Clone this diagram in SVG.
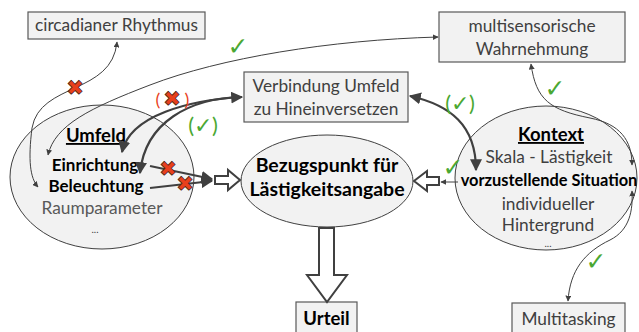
<svg xmlns="http://www.w3.org/2000/svg" width="639" height="332" viewBox="0 0 639 332">
<style>
.box{fill:#f2f2f2;stroke:#595959;stroke-width:1.2}
.ell{fill:#f2f2f2;stroke:#404040;stroke-width:1}
.t{font-family:Lato,"Open Sans",sans-serif;font-size:17.3px;fill:#404040;text-anchor:middle}
.dots{font-family:Lato,"Open Sans",sans-serif;font-size:10px;fill:#404040;text-anchor:middle}
.b{font-family:Lato,"Open Sans",sans-serif;font-weight:bold;fill:#000;text-anchor:middle}
.thin{fill:none;stroke:#404040;stroke-width:1}
.thick{fill:none;stroke:#404040;stroke-width:2.2}
.hollow{fill:#fff;stroke:#404040;stroke-width:2}
.ok{font-family:"DejaVu Sans",sans-serif;font-size:25px;fill:#4aa832;text-anchor:middle;font-weight:bold}
.no{font-family:"DejaVu Sans",sans-serif;font-size:21px;fill:#e8401c;stroke:#3a1a10;stroke-width:0.7;text-anchor:middle}
.par{font-family:Lato,sans-serif;font-size:22px;text-anchor:middle}
</style>
<defs>
<marker id="ah" viewBox="0 0 10 10" refX="9" refY="5" markerWidth="6" markerHeight="6" orient="auto-start-reverse" markerUnits="userSpaceOnUse"><path d="M0,0 L10,5 L0,10 z" fill="#404040"/></marker>
<marker id="ahT" viewBox="0 0 10 10" refX="9" refY="5" markerWidth="12" markerHeight="12" orient="auto-start-reverse" markerUnits="userSpaceOnUse"><path d="M0,0 L10,5 L0,10 z" fill="#404040"/></marker>
</defs>

<g id="circadian">
<rect class="box" x="28" y="12" width="177" height="27"/>
<text class="t" x="116.5" y="31">circadianer Rhythmus</text>
</g>
<g id="multisensorisch">
<rect class="box" x="439" y="12" width="186" height="50"/>
<text class="t" x="532" y="32">multisensorische</text>
<text class="t" x="532" y="55">Wahrnehmung</text>
</g>
<g id="verbindung">
<rect class="box" x="244" y="72" width="164" height="50"/>
<text class="t" x="326" y="92">Verbindung Umfeld</text>
<text class="t" x="326" y="115">zu Hineinversetzen</text>
</g>
<g id="umfeld">
<ellipse class="ell" cx="102" cy="177" rx="92" ry="72"/>
<text class="b" x="96" y="142" style="font-size:18.5px" text-decoration="underline">Umfeld</text>
<text class="b" x="95" y="171" style="font-size:17px">Einrichtung</text>
<text class="b" x="96" y="192" style="font-size:17px">Beleuchtung</text>
<text class="t" x="102" y="214" style="fill:#595959">Raumparameter</text>
<text class="dots" x="95" y="233">...</text>
</g>
<g id="bezugspunkt">
<ellipse class="ell" cx="327" cy="181" rx="86" ry="46"/>
<text class="b" x="327" y="172" style="font-size:19.5px">Bezugspunkt für</text>
<text class="b" x="327" y="196" style="font-size:19.5px">Lästigkeitsangabe</text>
</g>
<g id="kontext">
<ellipse class="ell" cx="546" cy="178" rx="91" ry="72"/>
<text class="b" x="551" y="141" style="font-size:18.5px" text-decoration="underline">Kontext</text>
<text class="t" x="549" y="163">Skala - Lästigkeit</text>
<text class="b" x="549" y="186" style="font-size:16.4px">vorzustellende Situation</text>
<text class="t" x="548" y="210">individueller</text>
<text class="t" x="548" y="231">Hintergrund</text>
<text class="dots" x="548" y="247">...</text>
</g>
<g id="urteil">
<rect class="box" x="296" y="302" width="61" height="34"/>
<text class="b" x="326.5" y="325" style="font-size:18.5px">Urteil</text>
</g>
<g id="multitasking">
<rect class="box" x="512" y="303" width="113" height="33"/>
<text class="t" x="568.5" y="325">Multitasking</text>
</g>

<g id="connectors">
<path class="thin" d="M117,42 C112,95 40,82 32,128 C28,160 30,178 38,187" marker-start="url(#ah)" marker-end="url(#ah)"/>
<path class="thin" d="M438,37 C330,40 220,58 150,85 C90,108 55,125 48,155" marker-start="url(#ah)" marker-end="url(#ah)"/>
<path class="thin" d="M531,64 C536,100 550,110 590,118 C620,124 632,140 632,165" marker-start="url(#ah)" marker-end="url(#ah)"/>
<path class="thin" d="M568,301 C570,270 585,252 610,240 C630,230 633,210 632,191" marker-start="url(#ah)" marker-end="url(#ah)"/>
<path class="thick" d="M242,97 C190,100 130,115 122,152" marker-start="url(#ahT)" marker-end="url(#ahT)"/>
<path class="thick" d="M242,97 C190,98 145,122 140,173" marker-end="url(#ahT)"/>
<path class="thick" d="M410,96 C450,105 476,125 476,170" marker-start="url(#ahT)" marker-end="url(#ahT)"/>
<path class="thick" d="M150,166 L212,179" marker-end="url(#ahT)"/>
<path class="thick" d="M150,188 L212,181" marker-end="url(#ahT)"/>
<path class="thin" d="M458,182 L441,182" marker-end="url(#ah)"/>
<polygon class="hollow" points="215,176 228,176 228,170 240,180 228,190 228,184 215,184"/>
<polygon class="hollow" points="439,177 427,177 427,171 414,181 427,191 427,185 439,185"/>
<polygon class="hollow" points="319,228 334,228 334,275 347,275 327,302 307,275 319,275"/>
</g>

<g id="marks">
<text class="ok" x="238" y="55">✓</text>
<text class="no" x="75" y="95">✖</text>
<text class="par" x="158" y="106" style="fill:#e8401c;font-size:18px">(</text>
<text class="no" x="172" y="106">✖</text>
<text class="par" x="187" y="106" style="fill:#e8401c;font-size:18px">)</text>
<text class="par" x="203" y="133" style="fill:#4aa832">(✓)</text>
<text class="par" x="460" y="111" style="fill:#4aa832">(✓)</text>
<text class="ok" x="555" y="97">✓</text>
<text class="ok" x="596" y="270">✓</text>
<text class="ok" x="453" y="176">✓</text>
<text class="no" x="168" y="176">✖</text>
<text class="no" x="185" y="191">✖</text>
</g>
</svg>
